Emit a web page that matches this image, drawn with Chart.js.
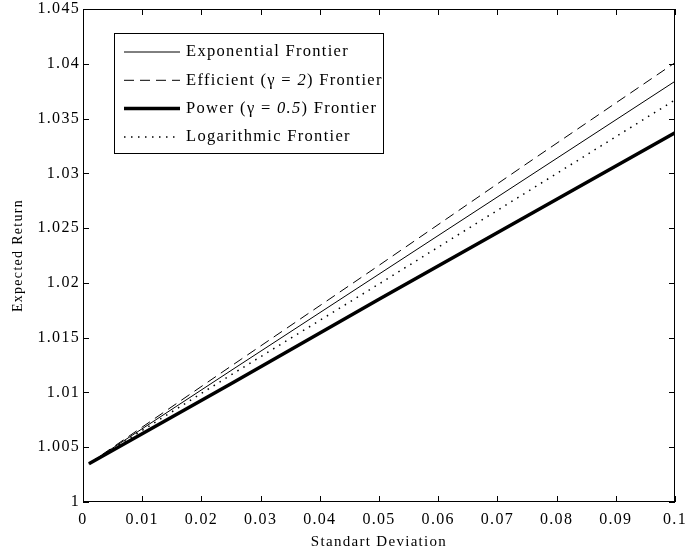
<!DOCTYPE html>
<html>
<head>
<meta charset="utf-8">
<script src="https://cdn.jsdelivr.net/npm/chart.js@4"></script>
<style>
  html, body { margin: 0; padding: 0; background: #fff; }
  #wrap { width: 688px; height: 555px; }
</style>
</head>
<body>
<div id="wrap"><canvas id="frontier"></canvas></div>
<script>
// values
const sigma = [0.001, 0.025, 0.05, 0.075, 0.1];
const expFrontier = [1.0035, 1.0120, 1.0208, 1.0296, 1.0384];
const effFrontier = [1.0035, 1.0124, 1.0216, 1.0309, 1.0401];
const powFrontier = [1.0035, 1.0108, 1.0185, 1.0261, 1.0337];
const logFrontier = [1.0035, 1.0116, 1.0199, 1.0283, 1.0367];
const seriesNames = [
  "Exponential Frontier",
  "Efficient (γ = 2) Frontier",
  "Power (γ = 0.5) Frontier",
  "Logarithmic Frontier"
];
const xTicks = [0, 0.01, 0.02, 0.03, 0.04, 0.05, 0.06, 0.07, 0.08, 0.09, 0.1];
const yTicks = [1, 1.005, 1.01, 1.015, 1.02, 1.025, 1.03, 1.035, 1.04, 1.045];

const serif = "'Liberation Serif', 'DejaVu Serif', serif";

function pts(ys) {
  return sigma.map((x, i) => ({ x: x, y: ys[i] }));
}

const styles = [
  { borderWidth: 1, borderDash: [] },
  { borderWidth: 1, borderDash: [10, 6] },
  { borderWidth: 3.5, borderDash: [] },
  { borderWidth: 1.5, borderDash: [1.5, 5.5] }
];
const allSeries = [expFrontier, effFrontier, powFrontier, logFrontier];

// matlab-like letter spacing
const spacing = {
  id: 'spacing',
  beforeUpdate(chart) { chart.ctx.letterSpacing = '1.3px'; },
  beforeDraw(chart) { chart.ctx.letterSpacing = '1.3px'; }
};

// inward ticks on all four sides + box
const boxTicks = {
  id: 'boxTicks',
  afterDraw(chart) {
    const { ctx, chartArea: a, scales } = chart;
    ctx.save();
    ctx.strokeStyle = '#000';
    ctx.lineWidth = 1;
    ctx.strokeRect(a.left + 0.5, a.top + 0.5, a.right - a.left - 1, a.bottom - a.top - 1);
    ctx.beginPath();
    xTicks.forEach(v => {
      const px = Math.round(scales.x.getPixelForValue(v)) + 0.5;
      ctx.moveTo(px, a.bottom); ctx.lineTo(px, a.bottom - 6);
      ctx.moveTo(px, a.top); ctx.lineTo(px, a.top + 6);
    });
    yTicks.forEach(v => {
      const py = Math.round(scales.y.getPixelForValue(v)) + 0.5;
      ctx.moveTo(a.left, py); ctx.lineTo(a.left + 6, py);
      ctx.moveTo(a.right, py); ctx.lineTo(a.right - 6, py);
    });
    ctx.stroke();
    ctx.restore();
  }
};

// boxed legend in the upper left corner
const boxLegend = {
  id: 'boxLegend',
  afterDraw(chart) {
    const { ctx, chartArea: a } = chart;
    const x0 = a.left + 31, y0 = a.top + 24, w = 269, h = 120;
    ctx.save();
    ctx.fillStyle = '#fff';
    ctx.fillRect(x0, y0, w, h);
    ctx.strokeStyle = '#000';
    ctx.lineWidth = 1;
    ctx.strokeRect(x0 + 0.5, y0 + 0.5, w, h);
    chart.data.datasets.forEach((ds, i) => {
      const y = y0 + 19 + i * 28.3;
      ctx.beginPath();
      ctx.lineWidth = ds.borderWidth;
      ctx.setLineDash(ds.borderDash);
      ctx.moveTo(x0 + 10, y);
      ctx.lineTo(x0 + 66, y);
      ctx.stroke();
      ctx.setLineDash([]);
      // italic numbers inside the gamma brackets
      const parts = ds.label.split(/(\d+(?:\.\d+)?)(?=\))/);
      let tx = x0 + 72;
      ctx.fillStyle = '#000';
      ctx.textBaseline = 'middle';
      ctx.textAlign = 'left';
      parts.forEach((p, k) => {
        ctx.font = (k % 2 ? 'italic ' : '') + '16.5px ' + serif;
        ctx.fillText(p, tx, y);
        tx += ctx.measureText(p).width;
      });
    });
    ctx.restore();
  }
};

new Chart(document.getElementById('frontier'), {
  type: 'line',
  data: {
    datasets: allSeries.map((ys, i) => ({
      label: seriesNames[i],
      data: pts(ys),
      borderColor: '#000',
      backgroundColor: '#000',
      borderWidth: styles[i].borderWidth,
      borderDash: styles[i].borderDash,
      pointRadius: 0,
      tension: 0,
      fill: false
    }))
  },
  options: {
    responsive: true,
    maintainAspectRatio: false,
    animation: false,
    layout: { padding: { top: 9, right: 13, left: 0, bottom: 0 } },
    plugins: {
      legend: { display: false },
      tooltip: { enabled: false }
    },
    scales: {
      x: {
        type: 'linear',
        min: 0,
        max: 0.1,
        afterBuildTicks: s => { s.ticks = xTicks.map(v => ({ value: v })); },
        afterFit: s => { s.height = 53; s.paddingLeft = 0; s.paddingRight = 0; },
        grid: { display: false, drawTicks: false },
        border: { display: false },
        ticks: {
          padding: 8,
          color: '#000',
          font: { family: serif, size: 16 },
          maxRotation: 0,
          autoSkip: false,
          callback: v => String(v)
        },
        title: {
          display: true,
          text: 'Standart Deviation',
          color: '#000',
          font: { family: serif, size: 15 },
          padding: { top: 0, bottom: 4 }
        }
      },
      y: {
        type: 'linear',
        min: 1,
        max: 1.045,
        afterBuildTicks: s => { s.ticks = yTicks.map(v => ({ value: v })); },
        afterFit: s => { s.width = 83; s.paddingTop = 0; s.paddingBottom = 0; },
        grid: { display: false, drawTicks: false },
        border: { display: false },
        ticks: {
          padding: 3,
          color: '#000',
          font: { family: serif, size: 16 },
          autoSkip: false,
          callback: v => String(+v.toFixed(3))
        },
        title: {
          display: true,
          text: 'Expected Return',
          color: '#000',
          font: { family: serif, size: 14 },
          padding: { top: 10, bottom: 0 }
        }
      }
    }
  },
  plugins: [spacing, boxTicks, boxLegend]
});
</script>
</body>
</html>
